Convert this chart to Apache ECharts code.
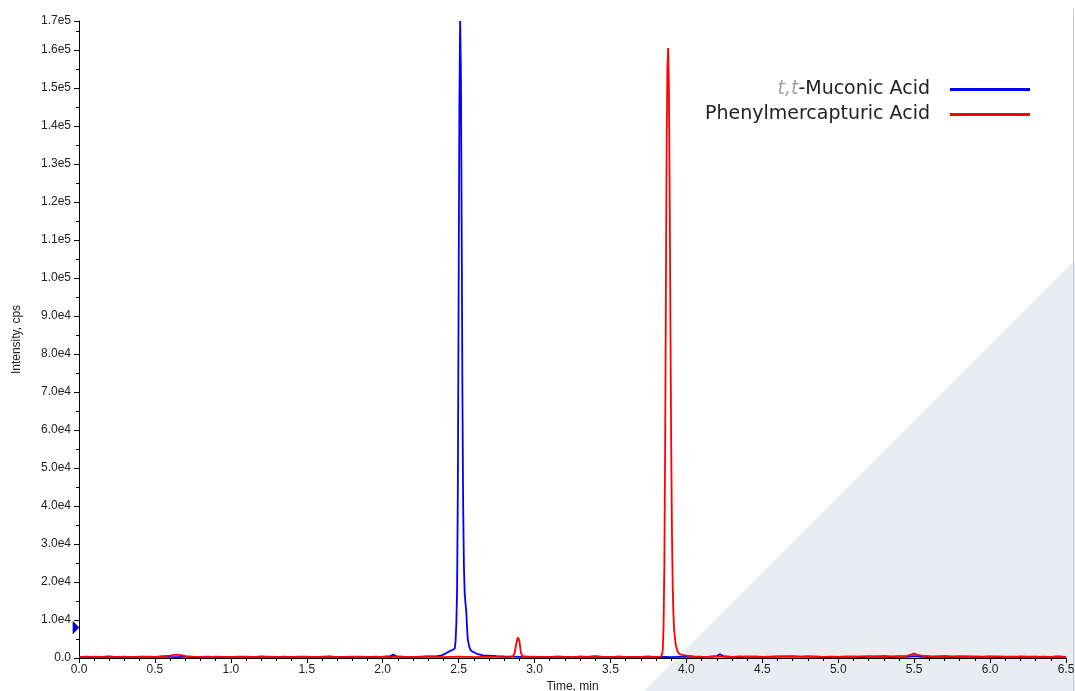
<!DOCTYPE html>
<html>
<head>
<meta charset="utf-8">
<script src="https://cdn.jsdelivr.net/npm/echarts@6/dist/echarts.min.js"></script>
<style>html,body{margin:0;padding:0;background:#fff}#c{width:1075px;height:691px}</style>
</head>
<body>
<div id="c"></div>
<script>
// ---- data ----
const seriesNames = ['t,t-Muconic Acid', 'Phenylmercapturic Acid'];
const xTicks = ['0.0','0.5','1.0','1.5','2.0','2.5','3.0','3.5','4.0','4.5','5.0','5.5','6.0','6.5'];
const yMax = 167600;

const muconicTime = [
 0.00,0.05,0.10,0.15,0.20,0.25,0.30,0.35,0.40,0.45,0.50,0.55,0.60,0.65,0.70,0.75,0.80,0.85,0.90,0.95,
 1.00,1.05,1.10,1.15,1.20,1.25,1.30,1.35,1.40,1.45,1.50,1.55,1.60,1.65,1.70,1.75,1.80,1.85,1.90,1.95,
 2.00,2.05,2.07,2.09,2.15,2.20,2.25,2.30,2.35,2.38,2.40,2.42,2.44,2.45,2.46,2.47,2.475,2.48,2.485,2.49,
 2.495,2.50,2.505,2.51,2.515,2.52,2.525,2.53,2.535,2.54,2.545,2.55,2.555,2.56,2.57,2.58,2.60,2.62,2.64,2.66,
 2.70,2.75,2.80,2.85,2.90,2.95,3.00,3.05,3.10,3.15,3.20,3.25,3.30,3.35,3.40,3.45,3.50,3.55,3.60,3.65,
 3.70,3.75,3.80,3.85,3.90,3.95,4.00,4.05,4.10,4.15,4.20,4.22,4.25,4.30,4.35,4.40,4.45,4.50,4.55,4.60,
 4.65,4.70,4.75,4.80,4.85,4.90,4.95,5.00,5.05,5.10,5.15,5.20,5.25,5.30,5.35,5.40,5.45,5.50,5.55,5.60,
 5.65,5.70,5.75,5.80,5.85,5.90,5.95,6.00,6.05,6.10,6.15,6.20,6.25,6.30,6.35,6.40,6.45,6.50
];
const muconicIntensity = [
 250,350,200,300,400,250,300,200,350,300,250,400,300,250,350,200,300,350,250,300,
 200,350,300,250,400,300,250,350,200,300,350,250,300,400,250,300,200,350,300,250,
 350,500,900,400,300,250,350,400,450,600,900,1300,1800,1500,2100,1900,2500,4500,9000,18000,
 45000,95000,145000,167600,155000,115000,70000,40000,24000,17000,14500,12500,8500,5000,3000,2000,1500,1100,900,700,
 650,500,400,350,300,350,250,300,250,350,300,250,350,300,400,300,250,350,300,250,
 300,350,250,300,250,300,350,300,250,350,500,1000,400,300,250,350,300,250,300,350,
 400,450,350,400,300,250,300,250,300,350,250,300,350,300,250,350,300,500,300,250,
 350,300,250,300,350,250,300,350,250,300,350,250,300,350,250,300,350,250
];

const pmaTime = [
 0.00,0.05,0.10,0.15,0.20,0.25,0.30,0.35,0.40,0.45,0.50,0.55,0.60,0.63,0.65,0.68,0.70,0.75,0.80,0.85,
 0.90,0.95,1.00,1.05,1.10,1.15,1.20,1.25,1.30,1.35,1.40,1.45,1.50,1.55,1.60,1.65,1.70,1.75,1.80,1.85,
 1.90,1.95,2.00,2.05,2.10,2.15,2.20,2.25,2.30,2.35,2.40,2.45,2.50,2.55,2.60,2.65,2.70,2.75,2.80,2.84,
 2.86,2.87,2.88,2.89,2.90,2.905,2.91,2.92,2.95,3.00,3.05,3.10,3.15,3.20,3.25,3.30,3.35,3.40,3.45,3.50,
 3.55,3.60,3.65,3.70,3.75,3.80,3.83,3.84,3.845,3.85,3.855,3.86,3.865,3.87,3.875,3.88,3.885,3.89,3.895,3.90,
 3.905,3.91,3.915,3.92,3.93,3.94,3.95,3.97,4.00,4.05,4.10,4.15,4.20,4.25,4.30,4.35,4.40,4.45,4.50,4.55,
 4.60,4.65,4.70,4.75,4.80,4.85,4.90,4.95,5.00,5.05,5.10,5.15,5.20,5.25,5.30,5.35,5.40,5.45,5.48,5.50,
 5.52,5.55,5.60,5.65,5.70,5.75,5.80,5.85,5.90,5.95,6.00,6.05,6.10,6.15,6.20,6.25,6.30,6.35,6.40,6.45,6.50
];
const pmaIntensity = [
 300,250,350,300,200,300,350,250,300,350,300,450,600,800,900,700,500,350,300,250,
 350,300,250,300,350,300,250,350,300,250,300,350,300,250,350,300,250,300,350,300,
 250,350,300,250,350,300,250,300,350,300,250,300,350,300,250,300,350,300,250,300,
 500,1500,3800,5400,4600,3000,1400,500,300,350,250,300,350,300,250,350,300,400,300,250,
 350,300,250,300,350,300,350,900,2500,9000,25000,55000,95000,135000,155000,160500,150000,122000,88000,56000,
 33000,19000,11000,7000,3500,1900,1200,800,600,450,350,300,400,350,300,450,350,400,300,350,
 400,350,450,300,350,400,300,350,300,400,350,450,500,400,550,450,500,500,900,1200,
 800,600,500,450,550,400,500,450,400,350,450,400,350,300,400,350,300,350,300,400,300
];

// ---- build ----
const zip = (t, v) => t.map((x, i) => [x, v[i]]);
const fmtY = v => {
  if (v === 0) return '0.0';
  const e = Math.floor(Math.log10(v) + 1e-9);
  return (v / Math.pow(10, e)).toFixed(1) + 'e' + e;
};

const chart = echarts.init(document.getElementById('c'), null, {renderer: 'canvas'});
chart.setOption({
  animation: false,
  backgroundColor: '#ffffff',
  grid: {left: 79, right: 9, top: 21, bottom: 33, containLabel: false, outerBoundsMode: 'none'},
  graphic: [
    {type: 'polygon', z: -10, silent: true,
     shape: {points: [[644, 691], [1075, 691], [1075, 260]]},
     style: {fill: '#e9ecf0'}},
    {type: 'line', z: -9, silent: true,
     shape: {x1: 1073.5, y1: 9, x2: 1073.5, y2: 691},
     style: {stroke: '#c9c9c9', lineWidth: 1}}
  ],
  legend: {
    orient: 'vertical', right: 40, top: 75, align: 'right',
    icon: 'rect', itemWidth: 80, itemHeight: 3, itemGap: 6,
    data: seriesNames,
    formatter: name => name.startsWith('t,t') ? '{i|t,t}{n|' + name.slice(3) + '}' : '{n|' + name + '}',
    textStyle: {
      fontFamily: 'DejaVu Sans', fontSize: 19, color: '#222',
      padding: [0, 15, 0, 0],
      rich: {
        i: {fontFamily: 'DejaVu Sans', fontSize: 19, fontStyle: 'italic', color: '#a0a0a0'},
        n: {fontFamily: 'DejaVu Sans', fontSize: 19, color: '#222'}
      }
    }
  },
  xAxis: {
    type: 'value', min: 0, max: 6.5, interval: 0.5,
    name: 'Time, min', nameLocation: 'middle', nameGap: 22,
    nameTextStyle: {fontFamily: 'Liberation Sans', fontSize: 12, color: '#222'},
    axisLine: {show: true, lineStyle: {color: '#000', width: 1}},
    axisTick: {show: true, length: 5, lineStyle: {color: '#000'}},
    minorTick: {show: true, splitNumber: 5, length: 3, lineStyle: {color: '#000'}},
    splitLine: {show: false},
    axisLabel: {fontFamily: 'Liberation Sans', fontSize: 12, color: '#222', margin: 6,
      formatter: v => xTicks[Math.round(v / 0.5)]}
  },
  yAxis: {
    type: 'value', min: 0, max: yMax, interval: 10000,
    name: 'Intensity, cps', nameLocation: 'middle', nameGap: 56, nameRotate: 90,
    nameTextStyle: {fontFamily: 'Liberation Sans', fontSize: 12, color: '#222'},
    axisLine: {show: true, lineStyle: {color: '#000', width: 1}},
    axisTick: {show: true, length: 5, lineStyle: {color: '#000'}},
    minorTick: {show: true, splitNumber: 2, length: 3, lineStyle: {color: '#000'}},
    splitLine: {show: false},
    axisLabel: {fontFamily: 'Liberation Sans', fontSize: 12, color: '#222', margin: 8,
      showMaxLabel: true, formatter: fmtY}
  },
  series: [
    {name: seriesNames[0], type: 'line', showSymbol: false, symbol: 'none',
     color: '#0000ff', lineStyle: {color: '#0000ff', width: 1.8},
     data: zip(muconicTime, muconicIntensity),
     markPoint: {
       silent: true,
       data: [{coord: [0, 8000], symbol: 'triangle', symbolSize: [12, 6], symbolRotate: -90,
               symbolOffset: [-3, 0],
               itemStyle: {color: '#0000ff', borderColor: '#000', borderWidth: 0.6},
               label: {show: false}}]
     }},
    {name: seriesNames[1], type: 'line', showSymbol: false, symbol: 'none',
     color: '#ff0000', lineStyle: {color: '#ff0000', width: 1.8},
     data: zip(pmaTime, pmaIntensity)}
  ]
});
</script>
</body>
</html>
